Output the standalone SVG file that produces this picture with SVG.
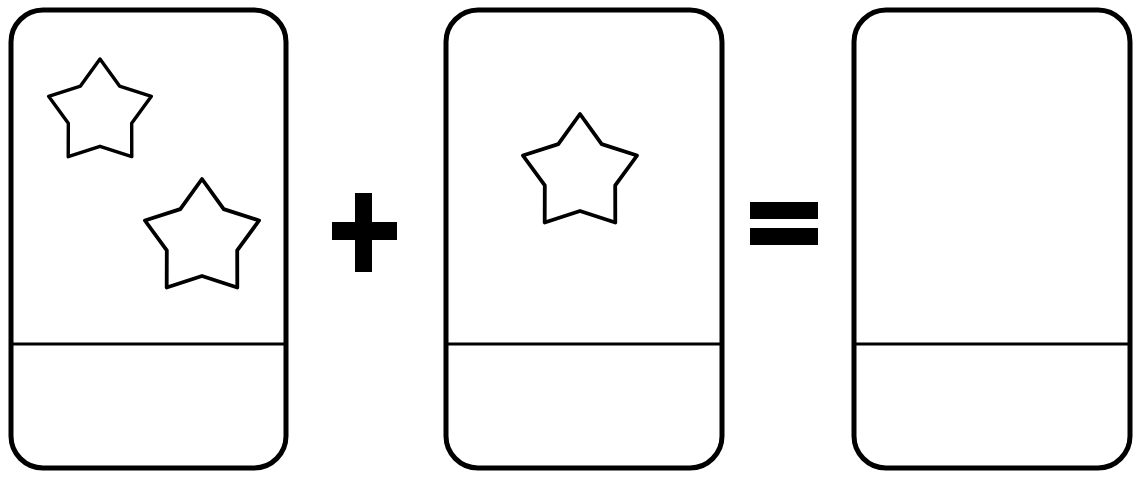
<svg xmlns="http://www.w3.org/2000/svg" width="1136" height="477" viewBox="0 0 1136 477">
  <style>
    .card { fill: #ffffff; stroke: #000000; stroke-width: 5; }
    .divider { stroke: #000000; stroke-width: 3; }
    .star { fill: #ffffff; stroke: #000000; stroke-width: 3.8; stroke-linejoin: round; }
    .op { fill: #000000; }
  </style>
  <defs>
    <path id="star" d="M0,-60 L21.7,-29.9 L57.1,-18.5 L35.2,11.4 L35.3,48.5 L0,37 L-35.3,48.5 L-35.2,11.4 L-57.1,-18.5 L-21.7,-29.9 Z"/>
  </defs>
  <rect width="1136" height="477" fill="#ffffff"/>

  <g id="card1">
    <rect class="card" x="11" y="10" width="275" height="458" rx="32" ry="32"/>
    <line class="divider" x1="11" y1="344" x2="286" y2="344"/>
    <use href="#star" class="star" transform="translate(100,113) scale(0.9)"/>
    <use href="#star" class="star" transform="translate(202,239)"/>
  </g>

  <g id="plus">
    <rect class="op" x="355" y="193" width="17" height="79"/>
    <rect class="op" x="332" y="222" width="65" height="18"/>
  </g>

  <g id="card2">
    <rect class="card" x="446" y="10" width="276" height="458" rx="32" ry="32"/>
    <line class="divider" x1="446" y1="344" x2="722" y2="344"/>
    <use href="#star" class="star" transform="translate(580,174)"/>
  </g>

  <g id="equals">
    <rect class="op" x="750" y="202" width="68" height="17"/>
    <rect class="op" x="750" y="228" width="68" height="17"/>
  </g>

  <g id="card3">
    <rect class="card" x="854" y="10" width="276" height="458" rx="32" ry="32"/>
    <line class="divider" x1="854" y1="344" x2="1130" y2="344"/>
  </g>
</svg>
